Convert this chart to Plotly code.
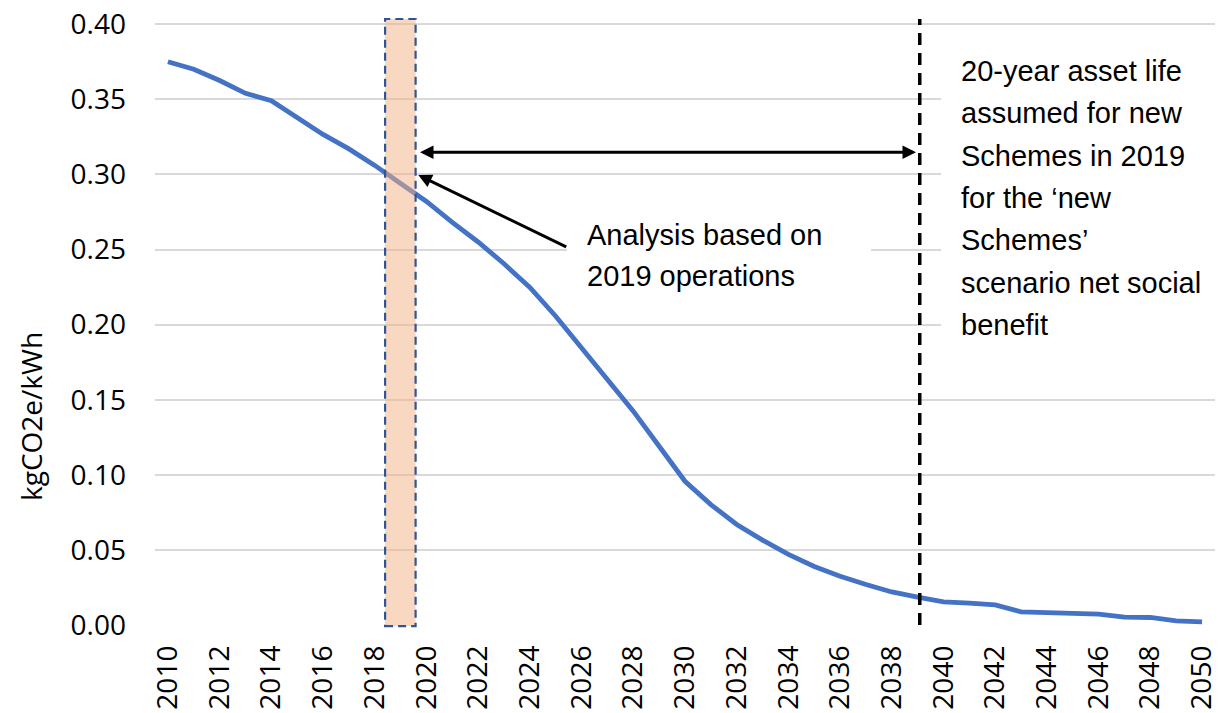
import plotly.graph_objects as go

years = list(range(2010, 2051))
intensity = [
    0.375, 0.370, 0.3625, 0.354, 0.349, 0.338, 0.3266, 0.317, 0.306, 0.294,
    0.282, 0.268, 0.255, 0.2405, 0.2247, 0.2056, 0.1845, 0.1646, 0.1424, 0.119,
    0.0957, 0.0802, 0.0669, 0.0565, 0.047, 0.039, 0.0325, 0.027, 0.022, 0.0185,
    0.0154, 0.0145, 0.0134, 0.0088, 0.0081, 0.0076, 0.0072, 0.0052, 0.005, 0.0028,
    0.0021,
]
x_tick_labels = [str(y) for y in range(2010, 2051, 2)]
y_ticks = [0.0, 0.05, 0.10, 0.15, 0.20, 0.25, 0.30, 0.35, 0.40]

highlight_year = 2019
asset_end_year = 2039

analysis_lines = ["Analysis based on", "2019 operations"]
asset_lines = [
    "20-year asset life",
    "assumed for new",
    "Schemes in 2019",
    "for the \u2018new",
    "Schemes\u2019",
    "scenario net social",
    "benefit",
]
y_title = "kgCO2e/kWh"

# ---- layout geometry (pixels) ----
W, H = 1218, 713
ML, MR, MT, MB = 155, 3, 19, 88
plot_w = W - ML - MR
plot_h = H - MT - MB
x_range = [2009.5, 2050.5]
px_per_year = plot_w / (x_range[1] - x_range[0])
px_per_unit = 1502.0
y_range = [0, plot_h / px_per_unit]


def px2x(px):
    return x_range[0] + (px - ML) / px_per_year


def px2y(py):
    return (MT + plot_h - py) / px_per_unit


TICK_FONT = dict(family="Open Sans, Segoe UI, sans-serif", size=28, color="#000000")
ANN_FONT = dict(family="Liberation Sans, Arial, sans-serif", size=29, color="#000000")

fig = go.Figure()
fig.add_trace(go.Scatter(
    x=years, y=intensity, mode="lines",
    line=dict(color="#4472C4", width=4.8),
    hoverinfo="skip", showlegend=False,
))

shapes = []
# white text boxes (above gridlines, below traces)
shapes.append(dict(type="rect", xref="x", yref="y", layer="between",
                   x0=px2x(567), x1=px2x(871), y0=px2y(300), y1=px2y(205),
                   fillcolor="white", line=dict(width=0)))
shapes.append(dict(type="rect", xref="x", yref="y", layer="between",
                   x0=px2x(941), x1=x_range[1], y0=px2y(350), y1=px2y(38),
                   fillcolor="white", line=dict(width=0)))
# highlighted 2019 band
shapes.append(dict(type="rect", xref="x", yref="paper", layer="above",
                   x0=highlight_year - 0.6, x1=highlight_year + 0.58, y0=-0.002, y1=1.0,
                   fillcolor="rgba(244,177,131,0.5)",
                   line=dict(color="#2F5597", width=2.2, dash="8px,5px")))
# asset-life end dashed line
shapes.append(dict(type="line", xref="x", yref="paper", layer="above",
                   x0=asset_end_year + 0.08, x1=asset_end_year + 0.08, y0=0, y1=1.0,
                   line=dict(color="#000000", width=3.5, dash="12px,8px")))

annotations = []
# double-headed arrow
annotations.append(dict(
    x=px2x(916), y=px2y(152.3), ax=px2x(418.5), ay=px2y(152.3),
    xref="x", yref="y", axref="x", ayref="y", text="", showarrow=True,
    arrowhead=2, startarrowhead=2, arrowside="end+start", arrowwidth=3,
    arrowsize=0.9, startarrowsize=0.9, arrowcolor="#000000", standoff=0, startstandoff=0,
))
# pointer arrow
annotations.append(dict(
    x=px2x(418.3), y=px2y(175), ax=px2x(567.7), ay=px2y(247.7),
    xref="x", yref="y", axref="x", ayref="y", text="", showarrow=True,
    arrowhead=2, arrowwidth=3, arrowsize=0.9, arrowcolor="#000000", standoff=0,
))
# Analysis text
for i, line in enumerate(analysis_lines):
    annotations.append(dict(
        x=px2x(585), y=px2y(235 + 41 * i), xref="x", yref="y",
        text=line, showarrow=False, xanchor="left", yanchor="middle",
        font=ANN_FONT,
    ))
# asset life text
for i, line in enumerate(asset_lines):
    annotations.append(dict(
        x=px2x(959), y=px2y(71 + 42.3 * i), xref="x", yref="y",
        text=line, showarrow=False, xanchor="left", yanchor="middle",
        font=ANN_FONT,
    ))
# y-axis title (pixel centre 31, 417)
annotations.append(dict(
    x=(31 - ML) / plot_w, y=(MT + plot_h - 417) / plot_h,
    xref="paper", yref="paper", text=y_title, showarrow=False,
    textangle=-90, font=dict(family="Open Sans, Segoe UI, sans-serif", size=28, color="#000000"),
    xanchor="center", yanchor="middle",
))

fig.update_layout(
    width=W, height=H,
    margin=dict(l=ML, r=MR, t=MT, b=MB, pad=0, autoexpand=False),
    paper_bgcolor="white", plot_bgcolor="white",
    shapes=shapes, annotations=annotations,
    xaxis=dict(
        range=x_range, tickmode="array",
        tickvals=[int(t) for t in x_tick_labels], ticktext=x_tick_labels,
        tickangle=-90, tickfont=TICK_FONT, showgrid=False, zeroline=False,
        showline=False, ticks="", ticklabelstandoff=14, automargin=False,
        ticklabeloverflow="allow",
    ),
    yaxis=dict(
        range=y_range, tickmode="array", tickvals=y_ticks,
        ticktext=[f"{v:.2f}" for v in y_ticks], tickfont=TICK_FONT,
        showgrid=True, gridcolor="#D9D9D9", gridwidth=1.5, zeroline=False,
        showline=False, ticks="", ticklabelstandoff=28, automargin=False,
    ),
)

fig.write_html("out.html")
